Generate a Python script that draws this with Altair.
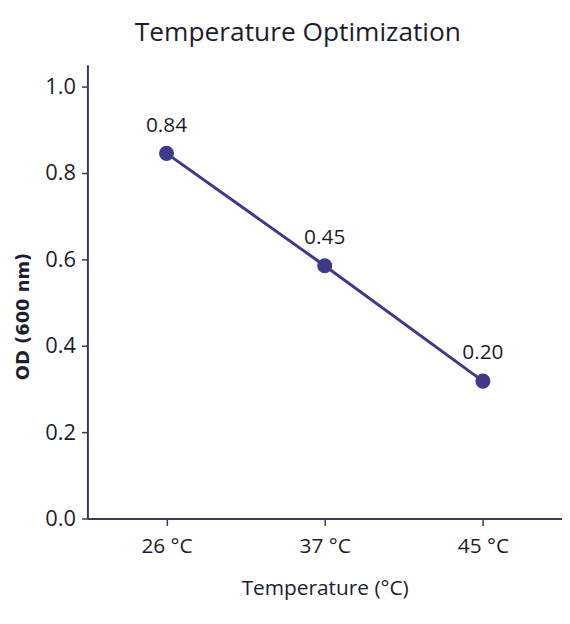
import altair as alt
import pandas as pd

temps = ["26 °C", "37 °C", "45 °C"]
od = [0.845, 0.585, 0.318]
labels = ["0.84", "0.45", "0.20"]

df = pd.DataFrame({"temp": temps, "od": od, "label": labels})

FONT = "Open Sans"
INK = "#1c1c2e"
LINE = "#40398a"
AX = "#3a3a55"

x = alt.X("temp:N", sort=temps, title="Temperature (°C)",
          scale=alt.Scale(type="point", padding=0.5),
          axis=alt.Axis(labelAngle=0, labelFontSize=21, labelColor=INK, labelFont=FONT,
                        titleFontSize=21, titleColor=INK, titleFont=FONT, titleFontWeight=500,
                        titlePadding=22, labelPadding=10, tickSize=7, tickColor=AX,
                        domainColor=AX, domainWidth=2, tickWidth=1.5, grid=False,
                        labelFontWeight=500))
y = alt.Y("od:Q", title="OD (600 nm)",
          scale=alt.Scale(domain=[0, 1.05], nice=False),
          axis=alt.Axis(values=[0, 0.2, 0.4, 0.6, 0.8, 1.0], format=".1f",
                        labelFontSize=22, labelColor=INK, labelFont=FONT, labelFontWeight=500,
                        titleFontSize=18, titleColor=INK, titleFont="DejaVu Sans", titleFontWeight="bold",
                        titlePadding=12, labelPadding=6, tickSize=6, tickColor=AX,
                        domainColor=AX, domainWidth=2, tickWidth=1.5, grid=False,
                        titleY=253))

base = alt.Chart(df).encode(x=x, y=y)
line = base.mark_line(color=LINE, strokeWidth=3)
pts = base.mark_circle(color=LINE, size=230, opacity=1)
txt = base.mark_text(dy=-28, fontSize=21, font=FONT, color=INK, fontWeight=500).encode(text="label:N")

chart = (line + pts + txt).properties(
    width=478, height=457,
    title=alt.TitleParams("Temperature Optimization", fontSize=26.5, font=FONT, color=INK,
                          fontWeight=500, dx=-27, offset=18),
    autosize=alt.AutoSizeParams(type="none"),
    padding={"left": 80, "top": 55, "right": 0, "bottom": 96},
).configure(background="white").configure_view(stroke="transparent", strokeWidth=0)

chart.save("out.html", embed_options={"renderer": "svg", "actions": False})
